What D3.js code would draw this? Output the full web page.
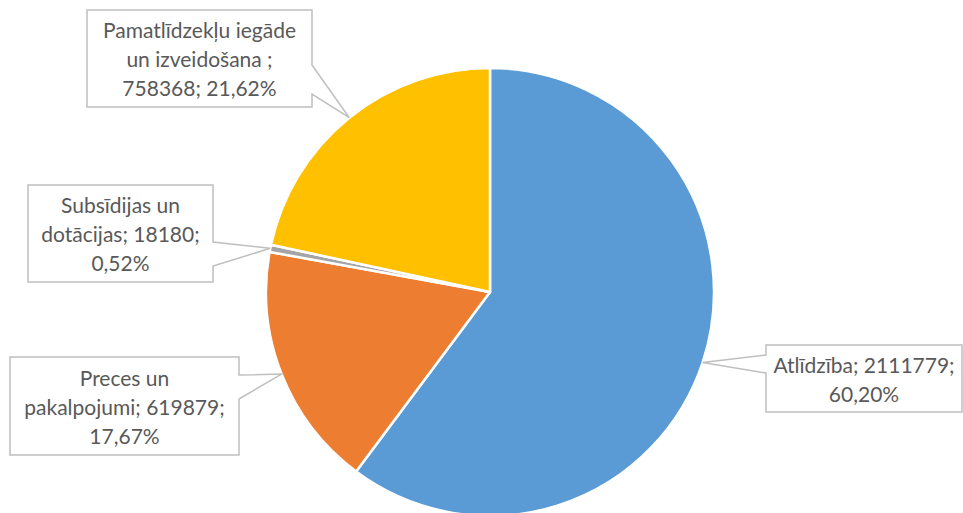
<!DOCTYPE html>
<html><head><meta charset="utf-8">
<script src="https://cdn.jsdelivr.net/npm/d3@7"></script>
<style>body{margin:0;background:#fff}svg{display:block}</style>
</head><body>
<svg id="c" width="963" height="513"></svg>
<script>
const categories = ["Atlīdzība", "Preces un pakalpojumi", "Subsīdijas un dotācijas", "Pamatlīdzekļu iegāde un izveidošana "];
const values = [2111779, 619879, 18180, 758368];
const colors = ["#5B9BD5", "#ED7D31", "#A5A5A5", "#FFC000"];
const labelLines = [
  ["Atlīdzība; 2111779;", "60,20%"],
  ["Preces un", "pakalpojumi; 619879;", "17,67%"],
  ["Subsīdijas un", "dotācijas; 18180;", "0,52%"],
  ["Pamatlīdzekļu iegāde", "un izveidošana ;", "758368; 21,62%"]
];
// callout boxes: [x, y, w, h, side, baseY0, baseY1]
const boxes = [
  {x:766, y:345, w:196, h:67, side:"left", b0:355, b1:373},
  {x:10, y:357, w:229, h:98, side:"right", b0:375, b1:399},
  {x:28, y:185, w:185, h:97, side:"right", b0:242, b1:266},
  {x:87, y:10, w:225, h:97, side:"right", b0:65, b1:94}
];

const svg = d3.select("#c");
const cx = 490, cy = 292, r = 224;
const pie = d3.pie().sort(null).value(d => d)(values);
const arc = d3.arc().innerRadius(0).outerRadius(r);
const g = svg.append("g").attr("transform", `translate(${cx},${cy})`);
g.selectAll("path").data(pie).join("path")
  .attr("d", arc).attr("fill", (d,i) => colors[i])
  .attr("stroke", "#fff").attr("stroke-width", 2.5).attr("stroke-linejoin","round");

const tipArc = d3.arc().innerRadius(r).outerRadius(r);
pie.forEach((d, i) => {
  const [tx, ty] = tipArc.centroid(d);
  const px = cx + tx, py = cy + ty;
  const b = boxes[i];
  let p;
  if (b.side === "right") {
    const X = b.x + b.w;
    p = `M${b.x},${b.y}H${X}V${b.b0}L${px},${py}L${X},${b.b1}V${b.y+b.h}H${b.x}Z`;
  } else {
    p = `M${b.x},${b.y}H${b.x+b.w}V${b.y+b.h}H${b.x}V${b.b1}L${px},${py}L${b.x},${b.b0}Z`;
  }
  svg.append("path").attr("d", p).attr("fill", "#fff")
    .attr("stroke", "#BFBFBF").attr("stroke-width", 1.5);
  const lines = labelLines[i];
  const lh = 29;
  const midY = b.y + b.h / 2;
  const t = svg.append("text").attr("text-anchor", "middle")
    .attr("font-family", "Lato, 'Open Sans', sans-serif").attr("font-size", 21)
    .attr("fill", "#595959");
  lines.forEach((ln, k) => {
    t.append("tspan").attr("x", b.x + b.w / 2)
      .attr("y", midY + (k - (lines.length - 1) / 2) * lh)
      .attr("dominant-baseline", "central").text(ln);
  });
});
</script>
</body></html>
